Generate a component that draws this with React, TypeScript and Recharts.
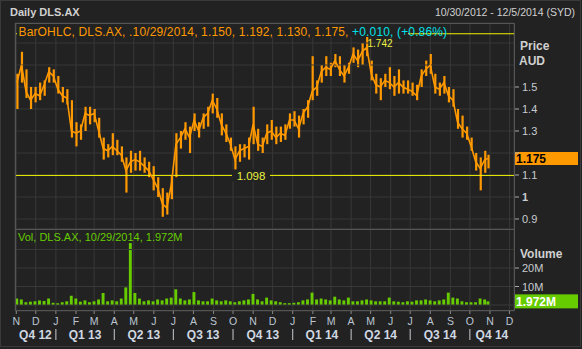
import React from 'react';
import { ComposedChart, Bar, Line, XAxis, YAxis, CartesianGrid, ReferenceLine } from 'recharts';

const weekDates = [
  '2012-11-02','2012-11-09','2012-11-16','2012-11-23','2012-11-30','2012-12-07','2012-12-14','2012-12-21','2012-12-28',
  '2013-01-04','2013-01-11','2013-01-18','2013-01-25','2013-02-01','2013-02-08','2013-02-15','2013-02-22',
  '2013-03-01','2013-03-08','2013-03-15','2013-03-22','2013-03-29','2013-04-05','2013-04-12','2013-04-19','2013-04-26',
  '2013-05-03','2013-05-10','2013-05-17','2013-05-24','2013-05-31','2013-06-07','2013-06-14','2013-06-21','2013-06-28',
  '2013-07-05','2013-07-12','2013-07-19','2013-07-26','2013-08-02','2013-08-09','2013-08-16','2013-08-23','2013-08-30',
  '2013-09-06','2013-09-13','2013-09-20','2013-09-27','2013-10-04','2013-10-11','2013-10-18','2013-10-25',
  '2013-11-01','2013-11-08','2013-11-15','2013-11-22','2013-11-29','2013-12-06','2013-12-13','2013-12-20','2013-12-27',
  '2014-01-03','2014-01-10','2014-01-17','2014-01-24','2014-01-31','2014-02-07','2014-02-14','2014-02-21','2014-02-28',
  '2014-03-07','2014-03-14','2014-03-21','2014-03-28','2014-04-04','2014-04-11','2014-04-18','2014-04-25',
  '2014-05-02','2014-05-09','2014-05-16','2014-05-23','2014-05-30','2014-06-06','2014-06-13','2014-06-20','2014-06-27',
  '2014-07-04','2014-07-11','2014-07-18','2014-07-25','2014-08-01','2014-08-08','2014-08-15','2014-08-22','2014-08-29',
  '2014-09-05','2014-09-12','2014-09-19','2014-09-26','2014-10-03','2014-10-10','2014-10-17','2014-10-24','2014-10-29',
];

const highs = [
  1.56,1.66,1.58,1.50,1.50,1.52,1.53,1.59,1.58,1.55,
  1.50,1.49,1.44,1.34,1.33,1.41,1.41,1.40,1.36,1.27,
  1.24,1.29,1.26,1.23,1.18,1.21,1.20,1.21,1.18,1.16,
  1.14,1.09,1.04,1.02,1.10,1.29,1.30,1.34,1.32,1.38,
  1.34,1.38,1.41,1.47,1.45,1.38,1.33,1.27,1.23,1.24,
  1.24,1.27,1.41,1.31,1.27,1.33,1.35,1.32,1.32,1.33,
  1.38,1.39,1.37,1.40,1.44,1.64,1.53,1.60,1.64,1.61,
  1.65,1.64,1.60,1.61,1.68,1.67,1.70,1.742,1.62,1.56,
  1.54,1.56,1.59,1.55,1.58,1.53,1.53,1.52,1.51,1.58,
  1.62,1.65,1.56,1.52,1.55,1.50,1.49,1.40,1.37,1.32,
  1.27,1.20,1.18,1.21,1.192,
];

const lows = [
  1.40,1.52,1.45,1.40,1.43,1.44,1.46,1.52,1.52,1.47,
  1.43,1.42,1.27,1.23,1.26,1.30,1.33,1.34,1.27,1.17,
  1.18,1.19,1.19,1.16,1.02,1.11,1.12,1.12,1.11,1.09,
  1.03,1.00,0.91,0.92,0.99,1.09,1.22,1.26,1.20,1.30,
  1.27,1.31,1.32,1.38,1.36,1.28,1.25,1.21,1.11,1.16,
  1.18,1.17,1.24,1.21,1.20,1.24,1.26,1.24,1.25,1.26,
  1.31,1.32,1.27,1.33,1.36,1.44,1.46,1.52,1.55,1.55,
  1.59,1.55,1.52,1.56,1.61,1.59,1.60,1.64,1.53,1.47,
  1.44,1.50,1.49,1.46,1.47,1.47,1.47,1.46,1.44,1.50,
  1.55,1.56,1.47,1.46,1.47,1.43,1.41,1.31,1.27,1.26,
  1.21,1.12,1.03,1.11,1.130,
];

const closes = [
  1.52,1.60,1.48,1.44,1.47,1.46,1.51,1.57,1.55,1.49,
  1.46,1.45,1.30,1.29,1.30,1.38,1.37,1.38,1.30,1.22,
  1.21,1.23,1.21,1.19,1.12,1.16,1.17,1.16,1.14,1.12,
  1.08,1.04,0.97,0.95,1.06,1.24,1.27,1.31,1.27,1.35,
  1.30,1.36,1.38,1.44,1.40,1.33,1.29,1.24,1.17,1.21,
  1.22,1.23,1.33,1.24,1.23,1.29,1.30,1.27,1.29,1.28,
  1.35,1.35,1.31,1.38,1.41,1.48,1.50,1.57,1.59,1.58,
  1.62,1.58,1.55,1.59,1.65,1.62,1.66,1.68,1.56,1.51,
  1.50,1.53,1.52,1.50,1.52,1.50,1.49,1.48,1.46,1.55,
  1.58,1.60,1.50,1.49,1.52,1.46,1.44,1.34,1.31,1.29,
  1.23,1.16,1.13,1.17,1.175,
];

const volumesM = [
  3.5,3.0,1.5,1.8,2.0,2.5,2.2,3.5,1.2,1.0,
  1.5,2.0,5.0,3.5,1.8,2.5,1.5,2.0,3.0,6.5,
  2.0,2.5,2.0,3.5,9.5,33.5,6.5,3.5,2.0,2.5,
  2.0,3.0,2.5,3.5,4.0,8.5,3.5,2.5,3.0,7.0,
  2.5,2.0,2.0,3.5,2.5,2.0,2.5,2.0,1.5,2.0,
  2.5,3.0,6.0,3.0,2.0,4.0,2.5,2.0,1.5,1.0,
  1.0,1.2,1.5,2.5,3.0,6.7,3.0,3.5,3.0,2.5,
  4.5,3.0,2.5,4.0,2.0,2.0,2.5,3.0,2.5,2.0,
  2.0,2.0,4.0,2.0,1.8,1.5,2.0,1.8,2.5,2.5,
  3.0,2.5,2.0,2.5,3.0,6.7,4.0,3.5,2.0,1.5,
  1.5,1.5,3.5,3.0,1.972,
];

const lastOpen = 1.15;
const prevClose = 1.165;
const levelHigh = 1.742;
const levelLine = 1.098;

const priceTicks = [0.9, 1, 1.1, 1.2, 1.3, 1.4, 1.5];
const priceGridExtra = [1.6, 1.7];
const volumeTicks = [10, 20];
const volumeGridExtra = [0, 30];
const monthStarts = [
  '2012-11-01','2012-12-01','2013-01-01','2013-02-01','2013-03-01','2013-04-01','2013-05-01','2013-06-01',
  '2013-07-01','2013-08-01','2013-09-01','2013-10-01','2013-11-01','2013-12-01','2014-01-01','2014-02-01',
  '2014-03-01','2014-04-01','2014-05-01','2014-06-01','2014-07-01','2014-08-01','2014-09-01','2014-10-01',
  '2014-11-01','2014-12-01',
];
const monthLetters = ['N','D','J','F','M','A','M','J','J','A','S','O','N','D','J','F','M','A','M','J','J','A','S','O','N','D'];
const quarterStarts = ['2013-01-01','2013-04-01','2013-07-01','2013-10-01','2014-01-01','2014-04-01','2014-07-01','2014-10-01'];
const quarterLabels = ['Q4 12','Q1 13','Q2 13','Q3 13','Q4 13','Q1 14','Q2 14','Q3 14','Q4 14'];
const axisStart = '2012-10-30';
const axisEnd = '2014-12-08';

const FONT = '"Liberation Sans", Arial, sans-serif';
const BG = '#222222';
const GRID = '#383838';
const FRAME = '#555555';
const ORANGE = '#ff9900';
const YELLOW = '#f2f200';
const GREEN = '#66cc00';
const AXIS_TXT = '#c8ccd0';

const DAY0 = Date.parse(axisStart + 'T00:00:00Z');
const dayOf = (s: string) => Math.round((Date.parse(s + 'T00:00:00Z') - DAY0) / 86400000);
const X_DOMAIN: [number, number] = [0, dayOf(axisEnd)];

const rows = weekDates.map((d, i) => ({
  d: dayOf(d),
  range: [lows[i], highs[i]],
  close: closes[i],
  vol: volumesM[i],
}));

const monthTickDays = monthStarts.map(dayOf);
const qBounds = [0, ...quarterStarts.map(dayOf), X_DOMAIN[1]];
const quarterItems: { d: number; kind: 'sep' | 'label'; text: string }[] = [];
quarterLabels.forEach((q, i) => {
  quarterItems.push({ d: (qBounds[i] + qBounds[i + 1]) / 2, kind: 'label', text: q });
  if (i + 1 < qBounds.length - 1) quarterItems.push({ d: qBounds[i + 1], kind: 'sep', text: '' });
});

const lastClose = closes[closes.length - 1];

const PriceTick = (props: any) => {
  const { x, y, payload } = props;
  const v = payload.value;
  // the tick nearest the last-price badge is covered by it
  if (Math.abs(v - lastClose) < 0.05) return <g />;
  return (
    <text x={x} y={y} dy={4} fontSize={11} fontFamily={FONT} fill={AXIS_TXT}
      fontWeight={v === 1 ? 'bold' : 'normal'} textAnchor="start">
      {v === 1 ? '1' : v.toFixed(1)}
    </text>
  );
};

const VolTick = (props: any) => {
  const { x, y, payload } = props;
  const v = payload.value;
  return (
    <text x={x} y={y} dy={4} fontSize={11} fontFamily={FONT} fill={AXIS_TXT} textAnchor="start">
      {v + 'M'}
    </text>
  );
};

const MonthTick = (props: any) => {
  const { x, y, index } = props;
  return (
    <text x={x} y={y} dy={9} fontSize={10.5} fontFamily={FONT} fill="#bcc6d2" textAnchor="middle">
      {monthLetters[index]}
    </text>
  );
};

const QuarterTick = (props: any) => {
  const { x, y, index } = props;
  const item = quarterItems[index];
  if (!item) return <g />;
  if (item.kind === 'sep') {
    return <line x1={x} x2={x} y1={y + 4} y2={y + 15} stroke="#c8ccd0" strokeWidth={1} />;
  }
  return (
    <text x={x} y={y} dy={14} fontSize={12} fontWeight="bold" fontFamily={FONT} fill="#d0d8e2" textAnchor="middle">
      {item.text}
    </text>
  );
};

const lineLabel = (props: any) => {
  const vb = props.viewBox;
  const cx = vb.x + vb.width * 0.473;
  return (
    <g>
      <rect x={cx - 19} y={vb.y - 6} width={38} height={12} fill={BG} />
      <text x={cx} y={vb.y + 4.5} fontSize={11.5} fontFamily={FONT} fill="#e8f040" textAnchor="middle">
        {levelLine.toFixed(3)}
      </text>
    </g>
  );
};

const lastPriceLabel = (props: any) => {
  const vb = props.viewBox;
  const x0 = vb.x + vb.width + 1;
  return (
    <g>
      <rect x={x0} y={vb.y - 6.5} width={63} height={13} fill={ORANGE} />
      <text x={x0 + 1} y={vb.y + 4.5} fontSize={12} fontWeight="bold" fontFamily={FONT} fill="#000">
        {lastClose.toFixed(3)}
      </text>
    </g>
  );
};

const lastVolLabel = (props: any) => {
  const vb = props.viewBox;
  const x0 = vb.x + vb.width + 1;
  return (
    <g>
      <rect x={x0} y={vb.y - 7} width={63} height={14} fill={GREEN} />
      <text x={x0 + 1} y={vb.y + 4.5} fontSize={12} fontWeight="bold" fontFamily={FONT} fill="#fff">
        {volumesM[volumesM.length - 1].toFixed(3) + 'M'}
      </text>
    </g>
  );
};

export default function App() {
  const n = closes.length - 1;
  const chg = closes[n] - prevClose;
  const legendMain = `BarOHLC, DLS.AX, .10/29/2014, ${lastOpen.toFixed(3)}, ${highs[n].toFixed(3)}, ${lows[n].toFixed(3)}, ${closes[n].toFixed(3)}, `;
  const legendChg = `+${chg.toFixed(3)}, (+${((chg / prevClose) * 100).toFixed(2)}%)`;
  return (
    <div style={{ position: 'absolute', left: 0, top: 0, width: 582, height: 349, background: BG, overflow: 'hidden' }}>
      <div style={{ position: 'absolute', left: 0, top: 0 }}>
        <ComposedChart width={582} height={349} data={rows} margin={{ top: 23, right: 8, bottom: 120, left: 15 }}>
          <CartesianGrid stroke={GRID} strokeWidth={1} />
          <XAxis dataKey="d" type="number" domain={X_DOMAIN} ticks={monthTickDays} interval={0} hide allowDataOverflow />
          <YAxis orientation="right" domain={[0.8545, 1.7909]} ticks={priceTicks} interval={0} width={60}
            allowDataOverflow axisLine={false} tickSize={5} tickMargin={3}
            tickLine={{ stroke: '#aaaaaa' }} tick={<PriceTick />} />
          {priceGridExtra.map((v) => (
            <ReferenceLine key={v} y={v} stroke={GRID} strokeWidth={1} />
          ))}
          <ReferenceLine y={levelHigh} stroke={YELLOW} strokeWidth={1} />
          <ReferenceLine y={levelLine} stroke={YELLOW} strokeWidth={1} label={lineLabel} />
          <Bar dataKey="range" barSize={2.2} fill={ORANGE} isAnimationActive={false} />
          <Line dataKey="close" type="linear" stroke={ORANGE} strokeWidth={1.6} dot={false} isAnimationActive={false} />
          <ReferenceLine y={lastClose} stroke="none" label={lastPriceLabel} />
        </ComposedChart>
      </div>
      <div style={{ position: 'absolute', left: 0, top: 0 }}>
        <ComposedChart width={582} height={349} data={rows} margin={{ top: 229, right: 8, bottom: 4, left: 15 }}>
          <CartesianGrid xAxisId="m" stroke={GRID} strokeWidth={1} />
          <XAxis xAxisId="m" dataKey="d" type="number" domain={X_DOMAIN} ticks={monthTickDays} interval={0}
            height={14} tickSize={3} tickMargin={2} axisLine={false} tickLine={{ stroke: '#888888' }}
            tick={<MonthTick />} allowDataOverflow />
          <XAxis xAxisId="q" dataKey="d" type="number" domain={X_DOMAIN} ticks={quarterItems.map((q) => q.d)}
            interval={0} height={20} tickSize={0} tickMargin={0} axisLine={false} tickLine={false}
            tick={<QuarterTick />} allowDataOverflow />
          <YAxis orientation="right" domain={[-3.24, 41.1]} ticks={volumeTicks} interval={0} width={60}
            allowDataOverflow axisLine={false} tickSize={5} tickMargin={3}
            tickLine={{ stroke: '#aaaaaa' }} tick={<VolTick />} />
          {volumeGridExtra.map((v) => (
            <ReferenceLine key={v} xAxisId="m" y={v} stroke={GRID} strokeWidth={1} />
          ))}
          <Bar xAxisId="m" dataKey="vol" barSize={4} fill={GREEN} isAnimationActive={false} />
          <ReferenceLine xAxisId="m" y={volumesM[n]} stroke="none" label={lastVolLabel} />
        </ComposedChart>
      </div>
      <svg width={582} height={349} style={{ position: 'absolute', left: 0, top: 0, pointerEvents: 'none' }}>
        <rect x={0.5} y={0.5} width={580} height={346} fill="none" stroke="#3a3a3a" />
        <rect x={15.5} y={23.5} width={499} height={206} fill="none" stroke={FRAME} />
        <rect x={15.5} y={229.5} width={499} height={81} fill="none" stroke={FRAME} />
        <text x={10} y={16} fontSize={11} fontWeight="bold" fontFamily={FONT} fill="#d0d0d0">Daily DLS.AX</text>
        <text x={575} y={16} fontSize={10.5} fontFamily={FONT} fill="#d0d0d0" textAnchor="end">10/30/2012 - 12/5/2014 (SYD)</text>
        <rect x={17} y={24} width={391} height={13} fill={BG} />
        <text x={18.5} y={36} fontSize={12} letterSpacing={0.15} fontFamily={FONT}>
          <tspan fill={ORANGE}>{legendMain}</tspan>
          <tspan fill="#00e0e8">{legendChg}</tspan>
        </text>
        <text x={380} y={47} fontSize={10} fontFamily={FONT} fill="#e8f040" textAnchor="middle">{levelHigh.toFixed(3)}</text>
        <text x={18} y={241} fontSize={11} fontFamily={FONT} fill={GREEN}>
          {`Vol, DLS.AX, 10/29/2014, ${volumesM[n].toFixed(3)}M`}
        </text>
        <text x={520} y={50} fontSize={12} fontWeight="bold" fontFamily={FONT} fill="#d0d0d0">Price</text>
        <text x={519} y={65} fontSize={12} fontWeight="bold" fontFamily={FONT} fill="#d0d0d0">AUD</text>
        <text x={520} y={258} fontSize={12} fontWeight="bold" fontFamily={FONT} fill="#d0d0d0">Volume</text>
      </svg>
    </div>
  );
}
